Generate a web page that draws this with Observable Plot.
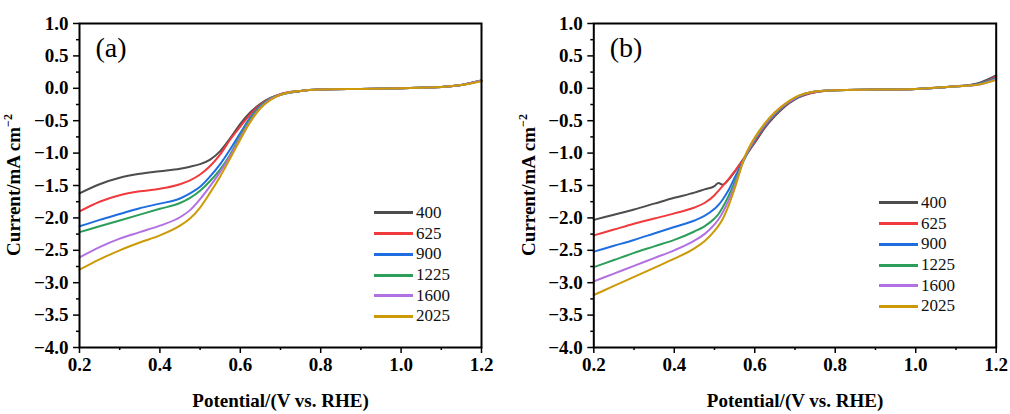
<!DOCTYPE html>
<html><head><meta charset="utf-8">
<script src="https://cdn.jsdelivr.net/npm/d3@7"></script>
<script src="https://cdn.jsdelivr.net/npm/@observablehq/plot@0.6"></script>
<style>
body{margin:0;background:#fff;}
#wrap{display:flex;width:1010px;height:414px;}
.panel{position:relative;width:505px;height:414px;}
.legend{position:absolute;font-family:"Liberation Serif",serif;font-size:17px;color:#111;}
.legend .row{display:flex;align-items:center;height:20.7px;}
.legend .sw{width:39px;height:3px;margin-right:3px;}
</style></head><body>
<div id="wrap"><div class="panel" id="pa"></div><div class="panel" id="pb"></div></div>
<script>
// ---- data ----
const speeds = ["400", "625", "900", "1225", "1600", "2025"];
const colors = ["#4d4d4d", "#f03a3d", "#1e6ee2", "#2c9e5a", "#b271e2", "#cc9a06"];
const xMajorTicks = [0.2, 0.4, 0.6, 0.8, 1.0, 1.2];
const xMinorTicks = [0.3, 0.5, 0.7, 0.9, 1.1];
const yMajorTicks = [1.0, 0.5, 0.0, -0.5, -1.0, -1.5, -2.0, -2.5, -3.0, -3.5, -4.0];
const yMinorTicks = [0.75, 0.25, -0.25, -0.75, -1.25, -1.75, -2.25, -2.75, -3.25, -3.75];

// panel (a)
const potentialA = [0.2,0.25,0.3,0.35,0.4,0.45,0.475,0.5,0.525,0.55,0.575,0.6,0.625,0.65,0.675,0.7,0.75,0.8,0.9,1.0,1.1,1.15,1.2];
const currentA_400  = [-1.62,-1.48,-1.38,-1.32,-1.28,-1.24,-1.21,-1.17,-1.10,-0.97,-0.77,-0.55,-0.37,-0.24,-0.15,-0.09,-0.04,-0.02,-0.01,0.00,0.02,0.05,0.12];
const currentA_625  = [-1.90,-1.75,-1.65,-1.59,-1.55,-1.48,-1.42,-1.33,-1.20,-1.02,-0.79,-0.59,-0.40,-0.25,-0.15,-0.09,-0.04,-0.02,-0.01,0.00,0.02,0.05,0.12];
const currentA_900  = [-2.13,-2.03,-1.94,-1.85,-1.78,-1.70,-1.62,-1.52,-1.36,-1.17,-0.94,-0.69,-0.45,-0.27,-0.16,-0.10,-0.04,-0.02,-0.01,0.00,0.02,0.05,0.12];
const currentA_1225 = [-2.22,-2.13,-2.04,-1.95,-1.86,-1.77,-1.69,-1.58,-1.43,-1.25,-1.02,-0.73,-0.47,-0.28,-0.16,-0.10,-0.04,-0.02,-0.01,0.00,0.02,0.05,0.12];
const currentA_1600 = [-2.61,-2.45,-2.32,-2.22,-2.12,-1.99,-1.88,-1.71,-1.51,-1.29,-1.04,-0.76,-0.50,-0.30,-0.17,-0.10,-0.04,-0.02,-0.01,0.00,0.02,0.05,0.12];
const currentA_2025 = [-2.80,-2.64,-2.50,-2.38,-2.27,-2.12,-2.01,-1.84,-1.61,-1.36,-1.08,-0.79,-0.52,-0.31,-0.18,-0.10,-0.04,-0.02,-0.01,0.00,0.02,0.05,0.11];

// panel (b)
const potentialB = [0.2,0.25,0.3,0.35,0.4,0.45,0.475,0.5,0.51,0.52,0.535,0.55,0.575,0.6,0.625,0.65,0.675,0.7,0.75,0.8,0.9,1.0,1.1,1.15,1.2];
const currentB_400  = [-2.03,-1.95,-1.87,-1.78,-1.69,-1.61,-1.56,-1.51,-1.46,-1.49,-1.41,-1.29,-1.06,-0.84,-0.61,-0.43,-0.28,-0.17,-0.06,-0.03,-0.02,-0.01,0.03,0.07,0.20];
const currentB_625  = [-2.27,-2.18,-2.09,-2.01,-1.93,-1.84,-1.77,-1.65,-1.58,-1.51,-1.40,-1.28,-1.07,-0.82,-0.59,-0.41,-0.27,-0.16,-0.06,-0.03,-0.02,-0.01,0.03,0.06,0.18];
const currentB_900  = [-2.52,-2.43,-2.34,-2.24,-2.14,-2.04,-1.97,-1.86,-1.80,-1.72,-1.57,-1.38,-1.08,-0.80,-0.58,-0.40,-0.26,-0.16,-0.05,-0.03,-0.02,-0.01,0.03,0.06,0.16];
const currentB_1225 = [-2.76,-2.65,-2.54,-2.44,-2.34,-2.21,-2.13,-2.01,-1.94,-1.84,-1.66,-1.45,-1.08,-0.79,-0.57,-0.39,-0.25,-0.15,-0.05,-0.03,-0.02,-0.01,0.03,0.06,0.15];
const currentB_1600 = [-2.98,-2.86,-2.74,-2.62,-2.50,-2.35,-2.25,-2.10,-2.02,-1.92,-1.73,-1.50,-1.07,-0.78,-0.56,-0.38,-0.25,-0.15,-0.05,-0.03,-0.02,-0.01,0.03,0.05,0.14];
const currentB_2025 = [-3.19,-3.05,-2.91,-2.77,-2.63,-2.47,-2.36,-2.20,-2.12,-2.02,-1.81,-1.55,-1.06,-0.76,-0.54,-0.37,-0.24,-0.14,-0.05,-0.03,-0.02,-0.01,0.03,0.05,0.13];

const seriesA = [currentA_400, currentA_625, currentA_900, currentA_1225, currentA_1600, currentA_2025];
const seriesB = [currentB_400, currentB_625, currentB_900, currentB_1225, currentB_1600, currentB_2025];

function rows(potential, series) {
  const out = [];
  series.forEach((arr, s) => arr.forEach((c, i) => out.push({V: potential[i], I: c, speed: speeds[s]})));
  return out;
}

const fmt = d => d.toFixed(1).replace("-", "\u2212");
const serif = "'Liberation Serif', 'Times New Roman', serif";

function makePanel(data, panelLabel, marginLeft, marginRight, yTitleX) {
  const svg = Plot.plot({
    width: 505, height: 414,
    marginLeft, marginRight, marginTop: 23, marginBottom: 67,
    style: {fontFamily: serif, background: "white", overflow: "visible"},
    x: {domain: [0.2, 1.2]},
    y: {domain: [-4, 1]},
    color: {domain: speeds, range: colors},
    marks: [
      Plot.line(data, {x: "V", y: "I", stroke: "speed", strokeWidth: 2, curve: "monotone-x"}),
      Plot.axisX(xMinorTicks, {tickSize: 3, tickFormat: () => "", strokeWidth: 1.5, label: null}),
      Plot.axisX(xMajorTicks, {tickSize: 6, tickPadding: 4, tickFormat: fmt, strokeWidth: 1.5,
        fontSize: 19, fontWeight: "bold", fill: "black", label: null}),
      Plot.axisY(yMinorTicks, {tickSize: 3, tickFormat: () => "", strokeWidth: 1.5, label: null}),
      Plot.axisY(yMajorTicks, {tickSize: 6, tickPadding: 5, tickFormat: fmt, strokeWidth: 1.5,
        fontSize: 19, fontWeight: "bold", fill: "black", label: null}),
      Plot.frame({stroke: "black", strokeWidth: 2}),
      Plot.text(["Potential/(V vs. RHE)"], {frameAnchor: "bottom", dy: 53, lineAnchor: "middle",
        fontSize: 19, fontWeight: "bold", fill: "black"}),
      Plot.text([panelLabel], {frameAnchor: "top-left", dx: 16, dy: 14, textAnchor: "start", lineAnchor: "top",
        fontSize: 28, fill: "black"})
    ]
  });
  const t = d3.select(svg).append("text")
    .attr("transform", `translate(${yTitleX},185) rotate(-90)`)
    .attr("text-anchor", "middle")
    .attr("font-family", serif).attr("font-weight", "bold").attr("font-size", 19).attr("fill", "black");
  t.append("tspan").text("Current/mA cm");
  t.append("tspan").attr("dy", -8).attr("font-size", 12).text("\u22122");
  return svg;
}

function legend(top) {
  const div = document.createElement("div");
  div.className = "legend";
  div.style.left = "374px";
  div.style.top = top + "px";
  speeds.forEach((s, i) => {
    const r = document.createElement("div"); r.className = "row";
    const sw = document.createElement("div"); sw.className = "sw"; sw.style.background = colors[i];
    const tx = document.createElement("span"); tx.textContent = s;
    r.appendChild(sw); r.appendChild(tx); div.appendChild(r);
  });
  return div;
}

const pa = document.getElementById("pa");
pa.appendChild(makePanel(rows(potentialA, seriesA), "(a)", 79, 24, 20));
pa.appendChild(legend(202.6));
const pb = document.getElementById("pb");
pb.appendChild(makePanel(rows(potentialB, seriesB), "(b)", 88.3, 14.3, 30));
pb.appendChild(legend(192.6));
</script>
</body></html>
